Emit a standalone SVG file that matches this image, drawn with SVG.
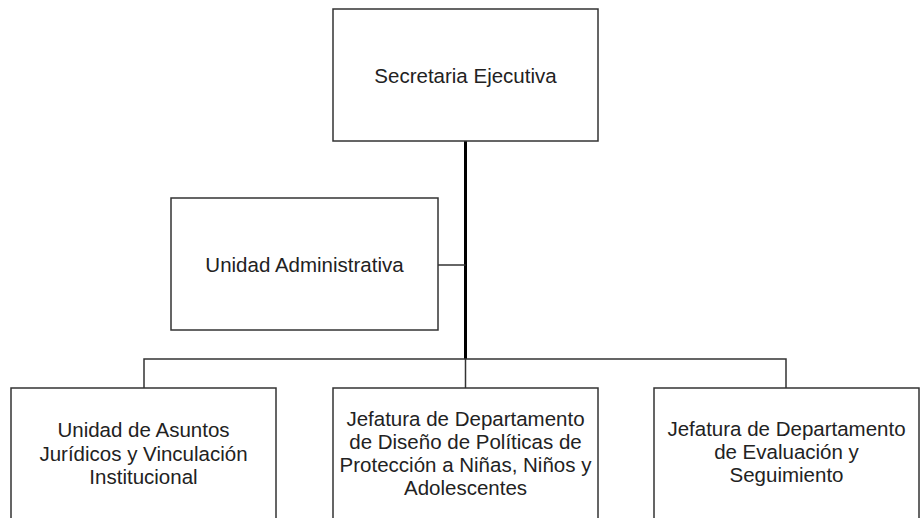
<svg xmlns="http://www.w3.org/2000/svg" width="920" height="518" viewBox="0 0 920 518">
<style>
.box{fill:#fff;stroke:#333;stroke-width:1.5}
.lbl{font-family:"Liberation Sans",Arial,sans-serif;font-size:20.5px;fill:#222;text-anchor:middle}
.ln{stroke:#333;stroke-width:1.5;fill:none}
.main{stroke:#000;stroke-width:3;fill:none}
</style>
<rect width="920" height="518" fill="#fff"/>
<g id="connectors">
<line class="main" x1="465.5" y1="141" x2="465.5" y2="359"/>
<line class="ln" x1="438" y1="265" x2="465.5" y2="265"/>
<polyline class="ln" points="144,388 144,359 786,359 786,388"/>
<line class="ln" x1="465.5" y1="359" x2="465.5" y2="388"/>
</g>
<g id="secretaria">
<rect class="box" x="333" y="9" width="265" height="132"/>
<text class="lbl" x="465.5" y="83">Secretaria Ejecutiva</text>
</g>
<g id="administrativa">
<rect class="box" x="171" y="198" width="267" height="132"/>
<text class="lbl" x="304.5" y="271.5">Unidad Administrativa</text>
</g>
<g id="juridicos">
<rect class="box" x="11" y="388" width="265" height="140"/>
<text class="lbl" x="143.5" y="437">Unidad de Asuntos</text>
<text class="lbl" x="143.5" y="460.5">Jurídicos y Vinculación</text>
<text class="lbl" x="143.5" y="484">Institucional</text>
</g>
<g id="disenio">
<rect class="box" x="333" y="388" width="265" height="140"/>
<text class="lbl" x="465.5" y="426">Jefatura de Departamento</text>
<text class="lbl" x="465.5" y="449">de Diseño de Políticas de</text>
<text class="lbl" x="465.5" y="472">Protección a Niñas, Niños y</text>
<text class="lbl" x="465.5" y="495">Adolescentes</text>
</g>
<g id="evaluacion">
<rect class="box" x="654" y="388" width="265" height="140"/>
<text class="lbl" x="786.5" y="436">Jefatura de Departamento</text>
<text class="lbl" x="786.5" y="459">de Evaluación y</text>
<text class="lbl" x="786.5" y="482">Seguimiento</text>
</g>
</svg>
